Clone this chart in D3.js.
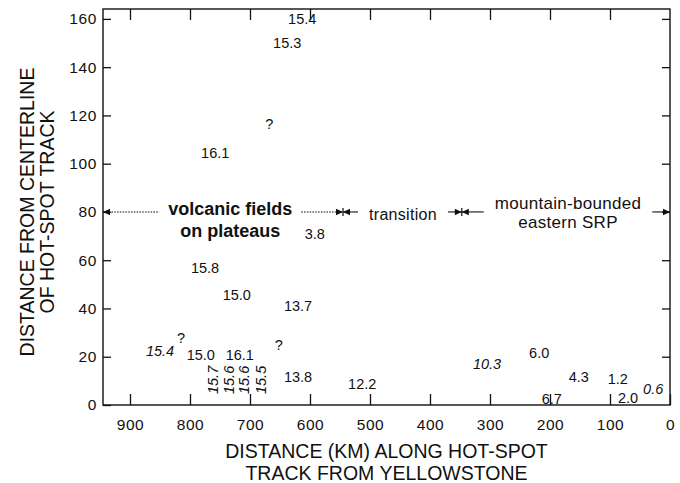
<!DOCTYPE html>
<html><head><meta charset="utf-8">
<script src="https://cdn.jsdelivr.net/npm/d3@7"></script>
<style>
html,body{margin:0;padding:0;background:#fff;}
svg{display:block;font-family:"Liberation Sans",Arial,Helvetica,sans-serif;}
</style></head>
<body><svg id="c" width="680" height="483"></svg>
<script>
// ---- data ----
const xTicks = [900, 800, 700, 600, 500, 400, 300, 200, 100, 0];
const yTicks = [0, 20, 40, 60, 80, 100, 120, 140, 160];
const xTitle = ["DISTANCE (KM) ALONG HOT-SPOT", "TRACK FROM YELLOWSTONE"];
const yTitle = ["DISTANCE FROM CENTERLINE", "OF HOT-SPOT TRACK"];

// age labels (Ma) placed at (km along track, km from centerline)
const ageLabels = ["15.4","15.3","?","16.1","3.8","15.8","15.0","13.7","?","15.4","15.0","16.1","?",
                   "15.7","15.6","15.6","15.5","13.8","12.2","6.0","10.3","4.3","1.2","0.6","2.0","6.7"];
const ageKm     = [613, 638, 668, 758, 592, 775, 722, 620, 815, 850, 782, 717, 652,
                   762, 735, 710, 682, 620, 513, 218, 305, 152, 87, 28, 70, 197];
const ageDist   = [160, 150, 116.5, 104.5, 71, 57, 45.6, 41, 28, 22.4, 21, 21, 25,
                   10.4, 10.4, 10.4, 10.4, 11.6, 9, 21.5, 17, 11.6, 10.7, 6.6, 3, 2.5];
const ageEstimated = [false,false,false,false,false,false,false,false,false,true,false,false,false,
                      true,true,true,true,false,false,false,true,false,false,true,false,false];
const ageVertical  = [false,false,false,false,false,false,false,false,false,false,false,false,false,
                      true,true,true,true,false,false,false,false,false,false,false,false,false];

// zones along the track
const zoneStart = [945, 545, 347];
const zoneEnd   = [545, 347, 0];
const zoneNames = [["volcanic fields", "on plateaus"], ["transition"], ["mountain-bounded", "eastern SRP"]];
const zoneNameKm = [733, 445, 170];
const zoneNameDist = [[81.6, 72.5], [79.2], [83.7, 75.9]];
const zoneLevel = 80;

// ---- layout ----
const L = 103, R = 670, T = 9, B = 405;
const x = d3.scaleLinear().domain([945, 0]).range([L, R]);
const y = d3.scaleLinear().domain([0, 164.1]).range([B, T]);
const svg = d3.select("#c");
const font = '"Liberation Sans",Arial,Helvetica,sans-serif';

// frame
svg.append("rect").attr("x", L).attr("y", T).attr("width", R - L).attr("height", B - T)
  .attr("fill", "none").attr("stroke", "#111").attr("stroke-width", 1.4);

// axes
const gx = svg.append("g").attr("transform", `translate(0,${B})`)
  .call(d3.axisBottom(x).tickValues(xTicks).tickSize(-11).tickPadding(14).tickFormat(d3.format("d")));
const gxt = svg.append("g").attr("transform", `translate(0,${T})`)
  .call(d3.axisTop(x).tickValues(xTicks.filter(d => d > 0)).tickSize(-11).tickFormat(""));
const gy = svg.append("g").attr("transform", `translate(${L},0)`)
  .call(d3.axisLeft(y).tickValues(yTicks).tickSize(-8).tickPadding(6).tickFormat(d3.format("d")));
const gyr = svg.append("g").attr("transform", `translate(${R},0)`)
  .call(d3.axisRight(y).tickValues(yTicks.filter(d => d > 0)).tickSize(-8).tickFormat(""));
[gx, gxt, gy, gyr].forEach(g => {
  g.select(".domain").remove();
  g.selectAll(".tick line").attr("stroke", "#111").attr("stroke-width", 1.3);
  g.selectAll(".tick text").attr("fill", "#111").style("font-family", font).style("font-size", "15.5px")
    .attr("letter-spacing", "0.6px");
});

// axis titles
svg.append("text").attr("x", (L + R) / 2).attr("y", 458).attr("text-anchor", "middle")
  .style("font-size", "19.5px").attr("fill", "#111").text(xTitle[0]);
svg.append("text").attr("x", (L + R) / 2).attr("y", 480).attr("text-anchor", "middle")
  .style("font-size", "19.5px").attr("fill", "#111").text(xTitle[1]);
const yc = (T + B) / 2 + 5;
yTitle.forEach((t, i) => {
  svg.append("text").attr("transform", `translate(${34 + i * 20},${yc}) rotate(-90)`)
    .attr("text-anchor", "middle").style("font-size", "19.5px").attr("fill", "#111").text(t);
});

// age labels
ageLabels.forEach((t, i) => {
  const px = x(ageKm[i]), py = y(ageDist[i]);
  svg.append("text").attr("text-anchor", "middle").attr("dy", "0.36em")
    .style("font-size", "14.5px").attr("fill", "#111")
    .style("font-style", ageEstimated[i] ? "italic" : "normal")
    .attr("transform", ageVertical[i] ? `translate(${px},${py}) rotate(-90)` : `translate(${px},${py})`)
    .text(t);
});

// zones
function arrow(tipX, dir) { // dir = -1 points left, +1 points right
  const yy = y(zoneLevel);
  svg.append("path")
    .attr("d", `M${tipX},${yy} L${tipX - dir * 7},${yy - 3.2} L${tipX - dir * 7},${yy + 3.2} Z`)
    .attr("fill", "#111");
}
zoneNames.forEach((lines, i) => {
  const g = svg.append("g");
  lines.forEach((t, j) => {
    g.append("text").attr("x", x(zoneNameKm[i])).attr("y", y(zoneNameDist[i][j]))
      .attr("dy", "0.36em").attr("text-anchor", "middle")
      .style("font-size", i === 0 ? "18px" : (i === 2 ? "17px" : "16px"))
      .style("font-weight", i === 0 ? "bold" : "normal")
      .attr("letter-spacing", i === 0 ? "0px" : "0.3px")
      .attr("fill", "#111").text(t);
  });
  const bb = g.node().getBBox();
  const pad = i === 0 ? 9 : 11;
  const x0 = x(zoneStart[i]), x1 = x(zoneEnd[i]);
  const yy = y(zoneLevel);
  const segs = [[x0, bb.x - pad], [bb.x + bb.width + pad, x1]];
  segs.forEach(s => {
    svg.append("line").attr("x1", s[0]).attr("x2", s[1]).attr("y1", yy).attr("y2", yy)
      .attr("stroke", "#111").attr("stroke-width", 1.1)
      .attr("stroke-dasharray", i === 0 ? "1.6,1.2" : null);
  });
  arrow(x0, -1);
  arrow(x1, 1);
  if (i > 0) {
    svg.append("line").attr("x1", x0).attr("x2", x0).attr("y1", yy - 4).attr("y2", yy + 4)
      .attr("stroke", "#111").attr("stroke-width", 1.2);
  }
});
</script></body></html>
